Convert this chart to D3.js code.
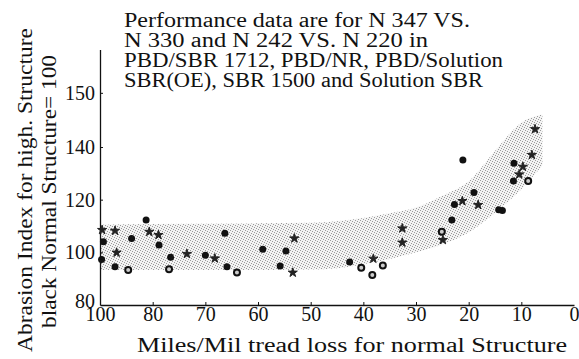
<!DOCTYPE html>
<html>
<head>
<meta charset="utf-8">
<script src="https://cdn.jsdelivr.net/npm/d3@7"></script>
<style>
  body { margin: 0; background: #fff; }
  svg { display: block; }
</style>
</head>
<body>
<div id="chart"></div>
<script>
// data
const miles = [99.2, 94.3, 98.7, 99.4, 88.0, 82.5, 81.3, 78.9, 78.8, 93.7, 94.3, 89.3,
  76.6, 76.9, 73.5, 70.0, 68.2, 66.3, 65.9, 64.0, 59.1, 55.8, 54.7, 53.1, 53.4,
  42.6, 40.4, 38.1, 36.3, 38.3, 32.6, 32.6, 25.1, 24.9, 23.2, 22.7, 21.2, 21.1,
  19.0, 18.2, 13.6, 14.3, 11.5, 11.4, 9.7, 10.4, 8.7, 8.0, 7.4];
const abrasion = [108.5, 108.2, 104.0, 97.3, 105.3, 112.3, 107.8, 106.6, 102.8, 99.9, 94.5, 93.3,
  98.1, 93.6, 99.4, 98.9, 97.7, 107.2, 94.5, 92.3, 101.2, 94.8, 100.5, 105.3, 92.3,
  96.3, 94.1, 97.6, 95.0, 91.4, 109.1, 103.7, 107.8, 104.7, 112.3, 118.2, 119.5, 135.1,
  122.7, 118.0, 115.9, 116.2, 127.1, 133.8, 132.5, 129.6, 127.1, 137.0, 143.3];
const marker = ['s', 's', 'c', 'c', 'c', 'c', 's', 's', 'c', 's', 'c', 'o',
  'c', 'o', 's', 'c', 's', 'c', 'c', 'o', 'c', 'c', 'c', 's', 's',
  'c', 'o', 's', 'o', 'o', 's', 's', 'o', 's', 'c', 'c', 's', 'c',
  'c', 's', 'c', 'c', 'c', 'c', 's', 's', 'o', 's', 's'];

// shaded scatter band
const bandMiles = [100, 80, 60, 50, 45, 40, 35, 30, 25, 20, 15, 10, 6];
const bandLow = [93.3, 93.3, 93.3, 93.5, 94, 95.5, 97.5, 100, 103, 107.5, 115, 124, 133];
const bandHigh = [110.5, 110.8, 111, 111.2, 111.8, 113, 114.8, 117, 121.5, 127, 138.5, 144.5, 146];

const xTicks = [100, 80, 70, 60, 50, 40, 30, 20, 10, 0];
const yTicks = [80, 100, 120, 140, 150];

const noteLines = [
  'Performance data are for N 347 VS.',
  'N 330 and N 242 VS. N 220 in',
  'PBD/SBR 1712, PBD/NR, PBD/Solution',
  'SBR(OE), SBR 1500 and Solution SBR'
];
const noteWidths = [346, 304, 379, 359];

const serif = 'Liberation Serif';
const width = 579, height = 359;

const svg = d3.select('#chart').append('svg')
  .attr('width', width)
  .attr('height', height);

// the printed axes are not uniform, so use piecewise scales
const x = d3.scaleLinear().domain([100, 80, 0]).range([100, 152.7, 574]);
const y = d3.scaleLinear().domain([80, 140, 158]).range([305, 147, 49.5]);

const defs = svg.append('defs');
const pat = defs.append('pattern')
  .attr('id', 'stipple')
  .attr('width', 5).attr('height', 5)
  .attr('patternUnits', 'userSpaceOnUse');
pat.append('rect').attr('width', 5).attr('height', 5).attr('fill', '#f3f3f3');
[[0, 0], [2, 1], [4, 2], [1, 3], [3, 4]].forEach(p => {
  pat.append('rect').attr('x', p[0]).attr('y', p[1])
    .attr('width', 1).attr('height', 1).attr('fill', '#9a9a9a');
});

const area = d3.area()
  .x((d, i) => x(bandMiles[i]))
  .y0((d, i) => y(bandLow[i]))
  .y1((d, i) => y(bandHigh[i]))
  .curve(d3.curveMonotoneX);

svg.append('path')
  .attr('d', area(bandMiles))
  .attr('fill', 'url(#stipple)');

// axes
const xAxis = svg.append('g')
  .attr('transform', `translate(0,${y(80)})`)
  .call(d3.axisBottom(x).tickValues(xTicks).tickSizeInner(-3).tickSizeOuter(0).tickPadding(2));
const yAxis = svg.append('g')
  .attr('transform', `translate(${x(100)},0)`)
  .call(d3.axisLeft(y).tickValues(yTicks).tickSizeInner(-3).tickSizeOuter(0).tickPadding(5));

[xAxis, yAxis].forEach(g => {
  g.attr('font-family', null);
  g.select('.domain').attr('stroke', '#111').attr('stroke-width', 1.3);
  g.selectAll('.tick line').attr('stroke', '#111');
  g.selectAll('.tick text')
    .style('font-family', serif)
    .style('font-size', '20px')
    .attr('fill', '#111');
});
xAxis.selectAll('.tick').filter(d => d === 0 || d === 100).select('line').remove();
yAxis.selectAll('.tick').filter(d => d === 80).select('line').remove();
yAxis.selectAll('.tick').filter(d => d === 80).select('text').attr('dy', '0.1em');

// points
const pts = svg.append('g');
miles.forEach((m, i) => {
  const cx = x(m), cy = y(abrasion[i]);
  if (marker[i] === 's') {
    pts.append('path')
      .attr('transform', `translate(${cx},${cy})`)
      .attr('d', d3.symbol().type(d3.symbolStar).size(26)())
      .attr('fill', '#222')
      .attr('stroke', '#222')
      .attr('stroke-width', 1);
  } else if (marker[i] === 'o') {
    pts.append('circle')
      .attr('cx', cx).attr('cy', cy).attr('r', 3)
      .attr('fill', '#ccc')
      .attr('stroke', '#111')
      .attr('stroke-width', 2);
  } else {
    pts.append('circle')
      .attr('cx', cx).attr('cy', cy).attr('r', 3.5)
      .attr('fill', '#111');
  }
});

function label(sel) {
  return sel.style('font-family', serif)
    .style('font-size', '20px')
    .attr('fill', '#111')
    .attr('lengthAdjust', 'spacingAndGlyphs');
}

// note
noteLines.forEach((t, i) => {
  svg.append('text')
    .call(label)
    .attr('x', 124)
    .attr('y', 26.7 + i * 20.2)
    .attr('textLength', noteWidths[i])
    .text(t);
});

// axis titles
svg.append('text')
  .call(label)
  .attr('x', 137)
  .attr('y', 351.5)
  .attr('textLength', 430)
  .text('Miles/Mil tread loss for normal Structure');

svg.append('text')
  .call(label)
  .attr('transform', 'translate(31.5,352) rotate(-90)')
  .attr('textLength', 324)
  .text('Abrasion Index for high. Structure');

svg.append('text')
  .call(label)
  .attr('transform', 'translate(55.5,328) rotate(-90)')
  .attr('textLength', 273)
  .text('black Normal Structure= 100');
</script>
</body>
</html>
